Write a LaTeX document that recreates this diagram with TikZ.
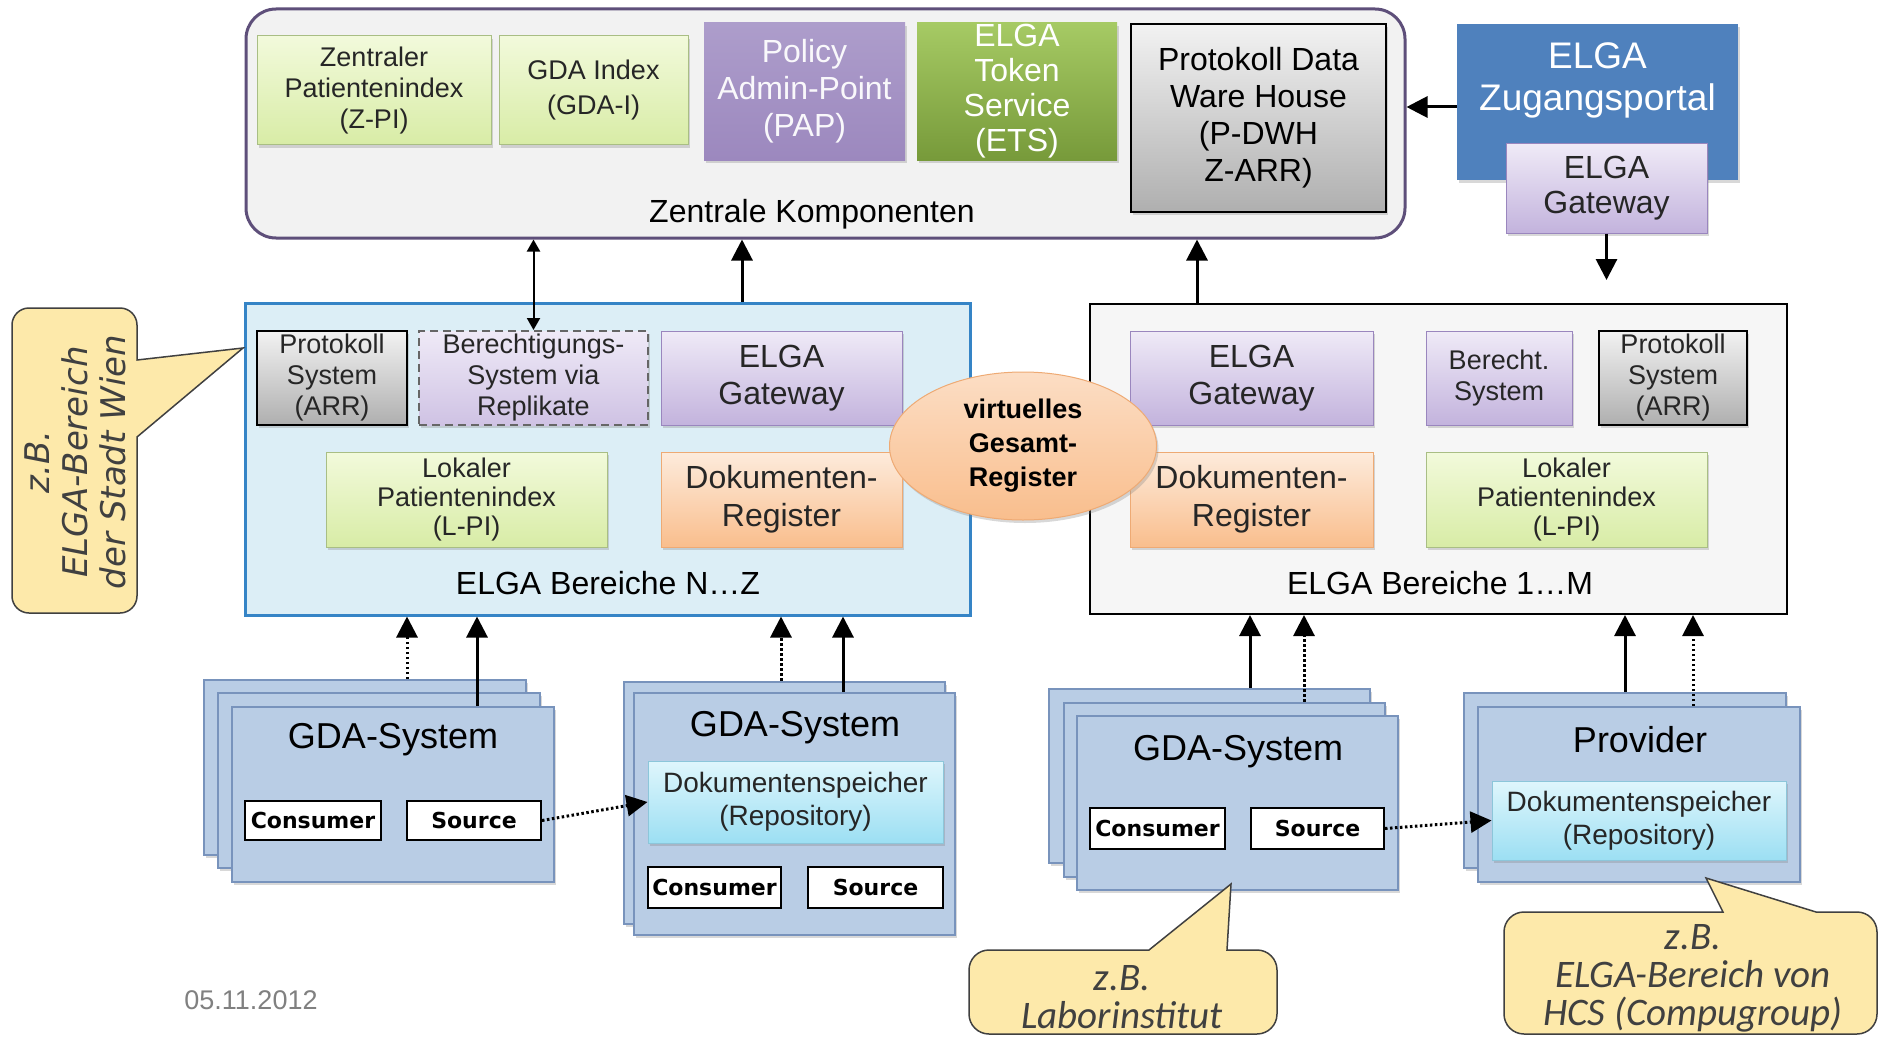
\documentclass[tikz,border=0pt]{standalone}
\usepackage{fontspec}
\setmainfont{Liberation Sans}
\newfontfamily\calloutfont{Carlito}
\newfontfamily\wienfont{DejaVu Sans}
\newfontfamily\knopffont{DejaVu Sans}
\usetikzlibrary{arrows.meta,shapes.geometric,shadows}

% Farben
\definecolor{TextDark}{HTML}{262626}
\definecolor{ZentralFill}{HTML}{F2F2F2}
\definecolor{ZentralLine}{HTML}{5E4F7A}
\definecolor{GreenTop}{HTML}{F2FADB}
\definecolor{GreenBot}{HTML}{D8ECA6}
\definecolor{GreenLine}{HTML}{A9BE84}
\definecolor{PapTop}{HTML}{AD9DCB}
\definecolor{PapBot}{HTML}{9C88BE}
\definecolor{EtsTop}{HTML}{A6CA64}
\definecolor{EtsBot}{HTML}{779A3A}
\definecolor{GrayTop}{HTML}{F2F2F2}
\definecolor{GrayBot}{HTML}{AFAFAF}
\definecolor{PortalBlue}{HTML}{4F81BD}
\definecolor{PurpleTop}{HTML}{EFEAF7}
\definecolor{PurpleBot}{HTML}{C3B3DD}
\definecolor{PurpleLine}{HTML}{9A86BE}
\definecolor{OrangeTop}{HTML}{FDEBDC}
\definecolor{OrangeBot}{HTML}{F9BE8D}
\definecolor{OrangeLine}{HTML}{EEAA74}
\definecolor{RegionLFill}{HTML}{DCEEF6}
\definecolor{RegionLLine}{HTML}{3584C6}
\definecolor{RegionRFill}{HTML}{F6F6F6}
\definecolor{GdaFill}{HTML}{B9CDE5}
\definecolor{GdaLine}{HTML}{7893BC}
\definecolor{CyanTop}{HTML}{DFF6FC}
\definecolor{CyanBot}{HTML}{9CDFF3}
\definecolor{CyanLine}{HTML}{8CC6DA}
\definecolor{NotizFill}{HTML}{FDE9AA}
\definecolor{NotizLine}{HTML}{404040}

% Schriftgroessen
\newcommand{\fsGross}{\fontsize{32}{37}\selectfont}
\newcommand{\fsKlein}{\fontsize{27}{31}\selectfont}
\newcommand{\fsRepo}{\fontsize{28}{33}\selectfont}
\newcommand{\fsTitel}{\fontsize{36}{42}\selectfont}
\newcommand{\fsPortal}{\fontsize{37}{42}\selectfont}
\newcommand{\fsKnopf}{\knopffont\bfseries\fontsize{22}{26}\selectfont}
\newcommand{\fsOval}{\bfseries\fontsize{27}{34}\selectfont}
\newcommand{\fsNotiz}{\calloutfont\itshape\fontsize{39}{38}\selectfont}
\newcommand{\fsWien}{\wienfont\itshape\fontsize{34}{38}\selectfont}
\newcommand{\fsDatum}{\fontsize{27}{30}\selectfont}

\begin{document}
\begin{tikzpicture}[x=1pt, y=-1pt,
    boxsize/.style 2 args={minimum width=#1pt, minimum height=#2pt},
    basis/.style={rectangle, inner sep=0pt, align=center, text=TextDark},
    schatten/.style={drop shadow={shadow xshift=2pt, shadow yshift=-3pt, opacity=.3}},
    greenbox/.style={basis, schatten, draw=GreenLine, line width=1pt, top color=GreenTop, bottom color=GreenBot, font=\fsKlein},
    purplebox/.style={basis, schatten, draw=PurpleLine, line width=1pt, top color=PurpleTop, bottom color=PurpleBot, font=\fsGross},
    graybox/.style={basis, schatten, draw=black, line width=2pt, top color=GrayTop, bottom color=GrayBot, font=\fsKlein},
    orangebox/.style={basis, schatten, draw=OrangeLine, line width=1pt, top color=OrangeTop, bottom color=OrangeBot, font=\fsGross},
    cyanbox/.style={basis, schatten, draw=CyanLine, line width=1pt, top color=CyanTop, bottom color=CyanBot, font=\fsRepo},
    gdabox/.style={basis, schatten, draw=GdaLine, line width=2pt, fill=GdaFill},
    knopf/.style={basis, draw=black, line width=2pt, fill=white, text=black, font=\fsKnopf},
    titel/.style={basis, font=\fsTitel, text=black},
    notiz/.style={draw=NotizLine, line width=1.5pt, fill=NotizFill},
    notiztext/.style={align=center, inner sep=0pt, text=NotizLine, font=\fsNotiz},
    pfeil/.style={line width=3pt, -{Triangle[width=21pt,length=21pt]}},
    pfeilzwei/.style={line width=2pt, {Triangle[width=13pt,length=12pt]}-{Triangle[width=13pt,length=12pt]}},
    punktpfeil/.style={line width=3pt, dash pattern=on 2.5pt off 2.5pt, -{Triangle[width=21pt,length=21pt]}}]

    % Bildgroesse wie die Vorlage
    \useasboundingbox (0,0) rectangle (1879,1038);
    \fill[white] (0,0) rectangle (1879,1038);

    % Zentrale Komponenten
    \node[basis, draw=ZentralLine, line width=3pt, fill=ZentralFill, rounded corners=30pt, boxsize={1159}{229}] (Zentral) at (825.5,123.5) {};
    \node[basis, font=\fsGross, text=black] (ZentralLabel) at (812,214) {Zentrale Komponenten};
    \node[greenbox, boxsize={234}{109}] (ZPI) at (374,90.5) {Zentraler\\Patientenindex\\(Z-PI)};
    \node[greenbox, font=\fontsize{27}{35}\selectfont, boxsize={189}{109}] (GDAI) at (593.5,90.5) {GDA Index\\(GDA-I)};
    \node[basis, schatten, top color=PapTop, bottom color=PapBot, text=white!93!PapTop, font=\fsGross, boxsize={201}{137}] (PAP) at (804.5,91.5) {Policy\\Admin-Point\\(PAP)};
    \node[basis, schatten, top color=EtsTop, bottom color=EtsBot, text=white, font=\fontsize{32}{35}\selectfont, boxsize={200}{137}] (ETS) at (1017,91.5) {ELGA\\Token\\Service\\(ETS)};
    \node[graybox, font=\fsGross, text=black, boxsize={255}{188}] (PDWH) at (1258.5,118) {Protokoll Data\\Ware House\\(P-DWH\\Z-ARR)};

    % ELGA Zugangsportal
    \node[basis, schatten, fill=PortalBlue, boxsize={281}{156}] (Portal) at (1597.5,102) {};
    \node[basis, text=white, font=\fsPortal] (PortalLabel) at (1597.5,80) {ELGA\\Zugangsportal};
    \node[purplebox, font=\fontsize{32}{35}\selectfont, boxsize={201}{89}] (GatewayTop) at (1606.5,188.5) {ELGA\\Gateway};

    % ELGA Bereiche N...Z
    \node[basis, draw=RegionLLine, line width=3pt, fill=RegionLFill, boxsize={725}{312}] (BereichL) at (607.5,459) {};
    \node[basis, font=\fsGross, text=black] (BereichLLabel) at (608,583) {ELGA Bereiche N…Z};
    \node[graybox, boxsize={150}{94}] (ProtL) at (332,378) {Protokoll\\System\\(ARR)};
    \node[basis, schatten, draw=black!60, line width=2pt, dash pattern=on 8pt off 5pt, top color=PurpleTop, bottom color=PurpleBot!80!white, font=\fsKlein, boxsize={229}{94}] (BerL) at (533.5,378) {Berechtigungs-\\System via\\Replikate};
    \node[purplebox, boxsize={241}{94}] (GatewayL) at (781.5,378) {ELGA\\Gateway};
    \node[greenbox, font=\fontsize{27}{29}\selectfont, boxsize={281}{95}] (LPIL) at (466.5,499.5) {Lokaler\\Patientenindex\\(L-PI)};
    \node[orangebox, font=\fontsize{32}{38}\selectfont, boxsize={241}{95}] (RegL) at (781.5,499.5) {Dokumenten-\\Register};

    % ELGA Bereiche 1...M
    \node[basis, draw=black, line width=2pt, fill=RegionRFill, boxsize={697}{310}] (BereichR) at (1438.5,459) {};
    \node[basis, font=\fsGross, text=black] (BereichRLabel) at (1440,583) {ELGA Bereiche 1…M};
    \node[purplebox, boxsize={243}{94}] (GatewayR) at (1251.5,378) {ELGA\\Gateway};
    \node[purplebox, font=\fsKlein, boxsize={146}{94}] (BerR) at (1499,378) {Berecht.\\System};
    \node[graybox, boxsize={148}{94}] (ProtR) at (1673,378) {Protokoll\\System\\(ARR)};
    \node[orangebox, font=\fontsize{32}{38}\selectfont, boxsize={243}{95}] (RegR) at (1251.5,499.5) {Dokumenten-\\Register};
    \node[greenbox, font=\fontsize{27}{29}\selectfont, boxsize={281}{95}] (LPIR) at (1566.5,499.5) {Lokaler\\Patientenindex\\(L-PI)};

    % virtuelles Gesamt-Register
    \node[ellipse, inner sep=0pt, align=center, schatten, draw=OrangeLine, line width=1pt, top color=OrangeTop!70!OrangeBot, bottom color=OrangeBot, font=\fsOval, minimum width=267pt, minimum height=148pt] (Gesamt) at (1023,446) {virtuelles\\Gesamt-\\Register};

    % GDA-System links (drei Stueck)
    \node[gdabox, boxsize={322}{175}] (StackL3) at (365,767.5) {};
    \node[gdabox, boxsize={322}{175}] (StackL2) at (379,780.5) {};
    \node[gdabox, boxsize={322}{175}] (StackL1) at (392.5,794.5) {};
    \node[titel] (StackL1Titel) at (393,740) {GDA-System};
    \node[knopf, boxsize={136}{39}] (ConsL) at (313,820.5) {Consumer};
    \node[knopf, boxsize={134}{39}] (SourceL) at (474,820.5) {Source};

    % GDA-System mit Repository
    \node[gdabox, boxsize={321}{242}] (StackM2) at (784,802.5) {};
    \node[gdabox, boxsize={321}{242}] (StackM1) at (794.5,814) {};
    \node[titel] (StackM1Titel) at (795,728) {GDA-System};
    \node[cyanbox, boxsize={295}{82}] (RepoM) at (795.5,802) {Dokumentenspeicher\\(Repository)};
    \node[knopf, boxsize={133}{41}] (ConsM) at (714.5,887.5) {Consumer};
    \node[knopf, boxsize={135}{41}] (SourceM) at (875.5,887.5) {Source};

    % GDA-System rechts (drei Stueck)
    \node[gdabox, boxsize={321}{174}] (StackR3) at (1209.5,776) {};
    \node[gdabox, boxsize={321}{174}] (StackR2) at (1224,789.5) {};
    \node[gdabox, boxsize={321}{174}] (StackR1) at (1237.5,803) {};
    \node[titel] (StackR1Titel) at (1238,752) {GDA-System};
    \node[knopf, boxsize={135}{41}] (ConsR) at (1157.5,828.5) {Consumer};
    \node[knopf, boxsize={133}{41}] (SourceR) at (1317.5,828.5) {Source};

    % Provider
    \node[gdabox, boxsize={322}{175}] (StackP2) at (1625,780) {};
    \node[gdabox, boxsize={322}{175}] (StackP1) at (1638.5,794.5) {};
    \node[titel] (StackP1Titel) at (1640,740) {Provider};
    \node[cyanbox, boxsize={294}{79}] (RepoR) at (1639,820.5) {Dokumentenspeicher\\(Repository)};

    % Pfeile oben
    \draw[pfeilzwei] (BerL.north) -- (BerL.north |- Zentral.south);
    \draw[pfeil] ([xshift=134.5pt]BereichL.north) -- ([xshift=134.5pt]BereichL.north |- Zentral.south);
    \draw[pfeil] ([xshift=-241.5pt]BereichR.north) -- ([xshift=-241.5pt]BereichR.north |- Zentral.south);
    \draw[pfeil] ([yshift=-5pt]Portal.west) -- ([yshift=-5pt]Portal.west -| Zentral.east);
    \coordinate (GatewayEnde) at (1606.5,280);
    \draw[pfeil] (GatewayTop.south) -- (GatewayEnde);

    % Pfeile unten
    \draw[punktpfeil] ([xshift=42pt]StackL3.north) -- ([xshift=42pt]StackL3.north |- BereichL.south);
    \draw[pfeil] ([xshift=84.5pt]StackL1.north) -- ([xshift=84.5pt]StackL1.north |- BereichL.south);
    \draw[punktpfeil] ([xshift=-3pt]StackM2.north) -- ([xshift=-3pt]StackM2.north |- BereichL.south);
    \draw[pfeil] ([xshift=48.5pt]StackM1.north) -- ([xshift=48.5pt]StackM1.north |- BereichL.south);
    \draw[pfeil] ([xshift=40.5pt]StackR3.north) -- ([xshift=40.5pt]StackR3.north |- BereichR.south);
    \draw[punktpfeil] ([xshift=80pt]StackR2.north) -- ([xshift=80pt]StackR2.north |- BereichR.south);
    \draw[pfeil] (StackP2.north) -- (StackP2.north |- BereichR.south);
    \draw[punktpfeil] ([xshift=54.5pt]StackP1.north) -- ([xshift=54.5pt]StackP1.north |- BereichR.south);

    % Source -> Repository
    \draw[punktpfeil] (SourceL.east) -- (RepoM.west);
    \draw[punktpfeil] (SourceR.east) -- (RepoR.west);

    % Sprechblasen
    \draw[notiz] (137,437) -- (243,348) -- (137,360) [rounded corners=17pt] -- (137,308) -- (12,308) -- (12,613) -- (137,613) [sharp corners] -- cycle;
    \node[notiztext, rotate=90, font=\fsWien] (NotizWien) at (75,462) {z.B.\\ELGA-Bereich\\der Stadt Wien};
    \draw[notiz] (1149,950) -- (1231,884) -- (1227,950) [rounded corners=20pt] -- (1277,950) -- (1277,1034) -- (969,1034) -- (969,950) [sharp corners] -- cycle;
    \node[notiztext] (NotizLabor) at (1122,997) {z.B.\\Laborinstitut};
    \draw[notiz] (1723,912) -- (1706,878) -- (1816,912) [rounded corners=20pt] -- (1877,912) -- (1877,1034) -- (1504,1034) -- (1504,912) [sharp corners] -- cycle;
    \node[notiztext] (NotizHCS) at (1693,978) {z.B.\\ELGA-Bereich von\\HCS (Compugroup)};

    % Datum
    \node[inner sep=0pt, text=black!50, font=\fsDatum] (Datum) at (251,1000) {05.11.2012};

\end{tikzpicture}
\end{document}
